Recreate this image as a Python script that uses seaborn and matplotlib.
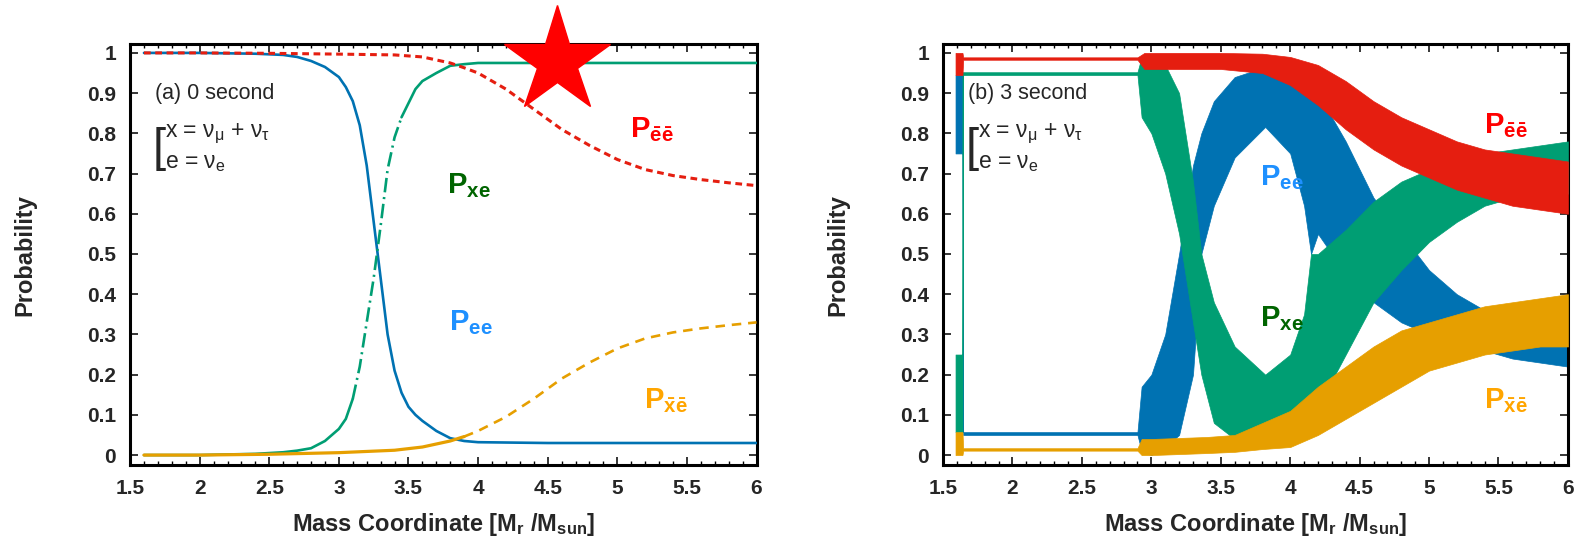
import numpy as np
import pandas as pd
import matplotlib
matplotlib.use("Agg")
import matplotlib.pyplot as plt
import seaborn as sns
from matplotlib.ticker import MultipleLocator

# ---------------- Panel (a): 0 second ----------------
x_ee_a = [1.6, 2.0, 2.4, 2.6, 2.7, 2.8, 2.9, 3.0, 3.05, 3.1, 3.15, 3.2, 3.25, 3.3,
          3.35, 3.4, 3.45, 3.5, 3.55, 3.6, 3.7, 3.8, 3.9, 4.0, 4.5, 5.0, 5.5, 6.0]
p_ee_a = [1.0, 1.0, 0.998, 0.995, 0.99, 0.98, 0.965, 0.94, 0.915, 0.88, 0.82, 0.72,
          0.58, 0.44, 0.30, 0.21, 0.155, 0.12, 0.10, 0.085, 0.06, 0.042, 0.035,
          0.032, 0.03, 0.03, 0.03, 0.03]
p_xe_a = [0.0, 0.0, 0.003, 0.007, 0.011, 0.017, 0.035, 0.065, 0.09, 0.14, 0.22, 0.33,
          0.44, 0.57, 0.71, 0.79, 0.84, 0.875, 0.91, 0.93, 0.95, 0.968, 0.972,
          0.975, 0.975, 0.975, 0.975, 0.975]
x_bar_a = [1.6, 2.0, 2.5, 3.0, 3.4, 3.6, 3.8, 3.9, 4.0, 4.2, 4.4, 4.6, 4.8, 5.0,
           5.2, 5.4, 5.6, 5.8, 6.0]
p_bb_a = [1.0, 1.0, 0.999, 0.997, 0.995, 0.99, 0.975, 0.963, 0.95, 0.91, 0.86, 0.81,
          0.77, 0.735, 0.71, 0.695, 0.685, 0.677, 0.67]
p_xb_a = [0.0, 0.0, 0.002, 0.006, 0.012, 0.02, 0.035, 0.046, 0.06, 0.095, 0.14, 0.19,
          0.23, 0.265, 0.29, 0.305, 0.315, 0.323, 0.33]

# ---------------- Panel (b): 3 second (oscillation envelopes) ----------------
x_r_b = [1.59, 1.64, 1.645, 2.9, 2.95, 3.5, 3.8, 4.0, 4.2, 4.4, 4.6, 4.8, 5.0, 5.2,
         5.4, 5.6, 5.8, 6.0]
bb_lo_b = [0.945, 0.945, 0.983, 0.983, 0.96, 0.96, 0.95, 0.92, 0.87, 0.81, 0.76, 0.72,
           0.69, 0.66, 0.64, 0.62, 0.61, 0.60]
bb_hi_b = [1.0, 1.0, 0.989, 0.989, 1.0, 1.0, 0.998, 0.99, 0.97, 0.93, 0.88, 0.84, 0.81,
           0.78, 0.76, 0.75, 0.74, 0.73]

x_o_b = [1.59, 1.64, 1.645, 2.9, 2.93, 3.0, 3.4, 3.6, 3.8, 4.0, 4.2, 4.4, 4.6, 4.8,
         5.0, 5.2, 5.4, 5.6, 5.8, 6.0]
xb_lo_b = [0.0, 0.0, 0.011, 0.011, 0.0, 0.0, 0.005, 0.008, 0.015, 0.02, 0.05, 0.09,
           0.13, 0.17, 0.21, 0.23, 0.25, 0.26, 0.27, 0.27]
xb_hi_b = [0.057, 0.057, 0.017, 0.017, 0.04, 0.04, 0.045, 0.05, 0.08, 0.11, 0.17, 0.22,
           0.27, 0.31, 0.33, 0.35, 0.37, 0.38, 0.39, 0.40]

x_e_b = [1.59, 1.64, 1.645, 2.9, 2.93, 3.0, 3.1, 3.2, 3.3, 3.36, 3.45, 3.6, 3.82, 4.0,
         4.1, 4.15, 4.2, 4.4, 4.6, 4.8, 5.0, 5.2, 5.4, 5.6, 5.8, 6.0]
ee_lo_b = [0.75, 0.75, 0.05, 0.05, 0.01, 0.0, 0.02, 0.05, 0.2, 0.5, 0.62, 0.74,
           0.816, 0.75, 0.62, 0.5, 0.55, 0.45, 0.38, 0.33, 0.30, 0.28, 0.26, 0.24,
           0.23, 0.22]
ee_hi_b = [0.945, 0.945, 0.057, 0.057, 0.17, 0.2, 0.3, 0.5, 0.72, 0.8, 0.88, 0.94,
           0.965, 0.96, 0.93, 0.92, 0.9, 0.78, 0.64, 0.55, 0.46, 0.40, 0.36, 0.35,
           0.35, 0.35]

x_g_b = [1.59, 1.638, 1.64, 1.645, 2.9, 2.93, 3.0, 3.1, 3.2, 3.3, 3.36, 3.45, 3.6,
         3.82, 4.0, 4.1, 4.15, 4.2, 4.4, 4.6, 4.8, 5.0, 5.2, 5.4, 5.6, 5.8, 6.0]
xe_lo_b = [0.057, 0.057, 0.057, 0.945, 0.945, 0.84, 0.80, 0.70, 0.55, 0.33, 0.20, 0.08,
           0.04, 0.04, 0.05, 0.08, 0.08, 0.12, 0.25, 0.38, 0.46, 0.53, 0.58, 0.62,
           0.64, 0.64, 0.65]
xe_hi_b = [0.25, 0.25, 0.952, 0.952, 0.952, 0.99, 0.99, 0.97, 0.90, 0.68, 0.50, 0.38,
           0.27, 0.20, 0.25, 0.35, 0.50, 0.50, 0.56, 0.63, 0.68, 0.71, 0.73, 0.75,
           0.76, 0.77, 0.78]

star_x = [4.57]
star_y = [0.98]

xticks = [1.5, 2, 2.5, 3, 3.5, 4, 4.5, 5, 5.5, 6]
xticklabels = ["1.5", "2", "2.5", "3", "3.5", "4", "4.5", "5", "5.5", "6"]
yticks = [0, 0.1, 0.2, 0.3, 0.4, 0.5, 0.6, 0.7, 0.8, 0.9, 1.0]
yticklabels = ["0", "0.1", "0.2", "0.3", "0.4", "0.5", "0.6", "0.7", "0.8", "0.9", "1"]

# ---------------- style ----------------
sns.set_theme(style="white")
plt.rcParams["font.family"] = ["Liberation Sans", "DejaVu Sans"]
plt.rcParams["mathtext.fontset"] = "custom"
plt.rcParams["mathtext.rm"] = "Liberation Sans"
plt.rcParams["mathtext.it"] = "Liberation Sans:italic"
plt.rcParams["mathtext.bf"] = "Liberation Sans:bold"

C_BLUE = "#0072b2"
C_GREEN = "#009e73"
C_RED = "#e51e10"
C_ORANGE = "#e69f00"

fig = plt.figure(figsize=(15.86, 5.44), dpi=100)
axA = fig.add_axes([0.082, 0.145, 0.395, 0.774])
axB = fig.add_axes([0.5946, 0.145, 0.394, 0.774])

LW = 1.9

# Panel (a) lines
dfA = pd.DataFrame({"x": x_ee_a, "ee": p_ee_a, "xe": p_xe_a})
dfB = pd.DataFrame({"x": x_bar_a, "bb": p_bb_a, "xb": p_xb_a})

sns.lineplot(data=dfA, x="x", y="ee", ax=axA, color=C_BLUE, lw=LW, zorder=3)
g1 = dfA[dfA.x <= 3.1]
g2 = dfA[(dfA.x >= 3.1) & (dfA.x <= 3.45)]
g3 = dfA[dfA.x >= 3.45]
sns.lineplot(data=g1, x="x", y="xe", ax=axA, color=C_GREEN, lw=LW, zorder=3)
sns.lineplot(data=g2, x="x", y="xe", ax=axA, color=C_GREEN, lw=LW, zorder=3)
axA.lines[-1].set_dashes((5.5, 1.8, 0.8, 1.8))
sns.lineplot(data=g3, x="x", y="xe", ax=axA, color=C_GREEN, lw=LW, zorder=3)

o1 = dfB[dfB.x <= 3.9]
o2 = dfB[dfB.x >= 3.9]
sns.lineplot(data=o1, x="x", y="xb", ax=axA, color=C_ORANGE, lw=LW + 0.4, zorder=4)
sns.lineplot(data=o2, x="x", y="xb", ax=axA, color=C_ORANGE, lw=LW, zorder=4)
axA.lines[-1].set_dashes((3.6, 2.6))
sns.lineplot(data=dfB, x="x", y="bb", ax=axA, color=C_RED, lw=LW + 0.3, zorder=5)
axA.lines[-1].set_dashes((2.2, 1.5))

axA.plot(star_x, star_y, marker="*", ms=80, color="#ff0000", ls="none",
         clip_on=False, zorder=10)

# Panel (b) bands
axB.fill_between(x_e_b, ee_lo_b, ee_hi_b, color=C_BLUE, lw=0.5, edgecolor=C_BLUE, zorder=2)
axB.fill_between(x_g_b, xe_lo_b, xe_hi_b, color=C_GREEN, lw=0.5, edgecolor=C_GREEN, zorder=3)
axB.fill_between(x_r_b, bb_lo_b, bb_hi_b, color=C_RED, lw=0.5, edgecolor=C_RED, zorder=4)
axB.fill_between(x_o_b, xb_lo_b, xb_hi_b, color=C_ORANGE, lw=0.5, edgecolor=C_ORANGE, zorder=5)

lab_kw = dict(fontsize=21, fontweight="bold", ha="center", va="center")
for ax in (axA, axB):
    ax.set_xlim(1.5, 6.0)
    ax.set_ylim(-0.025, 1.022)
    ax.set_xticks(xticks)
    ax.set_xticklabels(xticklabels)
    ax.set_yticks(yticks)
    ax.set_yticklabels(yticklabels)
    ax.xaxis.set_minor_locator(MultipleLocator(0.1))
    ax.tick_params(which="both", direction="in", top=True, right=True,
                   bottom=True, left=True, color="black")
    ax.tick_params(which="major", length=6, width=1.1, labelsize=15, pad=10)
    ax.tick_params(which="minor", length=3, width=1.0)
    for lab in ax.get_xticklabels() + ax.get_yticklabels():
        lab.set_fontweight("bold")
    for sp in ax.spines.values():
        sp.set_visible(True)
        sp.set_color("black")
        sp.set_linewidth(2.2)
    ax.set_xlabel("Mass Coordinate [M$_\\mathbf{r}$ /M$_\\mathbf{sun}$]",
                  fontsize=17, fontweight="bold")
    ax.set_ylabel("Probability", fontsize=17, fontweight="bold")
    ax.xaxis.set_label_coords(0.5, -0.11)
    ax.yaxis.set_label_coords(-0.15, 0.5)
    ax.text(1.665, 0.762, "[", fontsize=34, fontweight="light",
            va="center", ha="left")
    ax.text(1.75, 0.80, "x = ν$_\\mathregular{μ}$ + ν$_\\mathregular{τ}$",
            fontsize=16.5, va="center", ha="left")
    ax.text(1.75, 0.728, "e = ν$_\\mathregular{e}$",
            fontsize=16.5, va="center", ha="left")

axA.text(1.68, 0.90, "(a) 0 second", fontsize=15.5, va="center", ha="left")
axB.text(1.68, 0.90, "(b) 3 second", fontsize=15.5, va="center", ha="left")
axA.text(5.25, 0.81, r"$\mathbf{P_{\bar{e}\bar{e}}}$", color="#ff0000", **lab_kw)
axA.text(5.35, 0.135, r"$\mathbf{P_{\bar{x}\bar{e}}}$", color="#ffa500", **lab_kw)
axB.text(5.55, 0.82, r"$\mathbf{P_{\bar{e}\bar{e}}}$", color="#ff0000", **lab_kw)
axB.text(5.55, 0.135, r"$\mathbf{P_{\bar{x}\bar{e}}}$", color="#ffa500", **lab_kw)
axA.text(3.93, 0.67, r"$\mathbf{P_{xe}}$", color="#006400", **lab_kw)
axA.text(3.95, 0.33, r"$\mathbf{P_{ee}}$", color="#1e90ff", **lab_kw)
axB.text(3.94, 0.69, r"$\mathbf{P_{ee}}$", color="#1e90ff", **lab_kw)
axB.text(3.94, 0.34, r"$\mathbf{P_{xe}}$", color="#006400", **lab_kw)

fig.savefig("out.png", dpi=100)
